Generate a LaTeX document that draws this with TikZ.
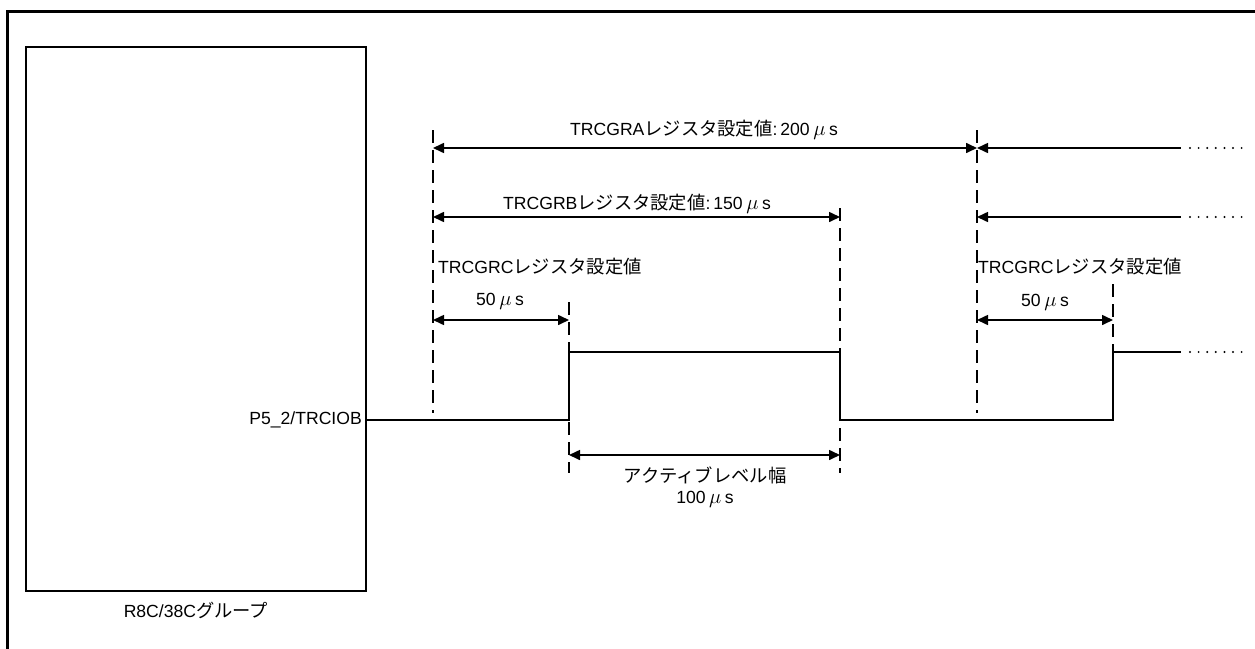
\documentclass[tikz,border=0pt]{standalone}
\usepackage{fontspec}
\setmainfont{Liberation Sans}
\newfontfamily\jpfont[Scale=1.04]{Noto Sans CJK JP}
\usetikzlibrary{arrows.meta,positioning}

\tikzset{
  txt/.style={font=\fontsize{17.6}{21}\selectfont, inner sep=0pt},
  guide/.style={line width=2.6pt, dash pattern=on 13pt off 7pt},
  dim/.style={line width=1.6pt, {Triangle[length=11pt,width=10pt]}-{Triangle[length=11pt,width=10pt]}},
  dimleft/.style={line width=1.6pt, {Triangle[length=11pt,width=10pt]}-},
  sig/.style={line width=1.6pt},
  tail/.style={line width=2.2pt, line cap=round, dash pattern=on 0pt off 8.6pt},
}
\newcommand\musec{\hspace{0.2em}{\fontsize{22}{21}\selectfont$\mu$}\hspace{0.2em}s}

\begin{document}
\begin{tikzpicture}[x=1pt,y=-1pt]
  \useasboundingbox (0,0) rectangle (1255,648);

  \newcommand\Xa{433}
  \newcommand\Xb{569}
  \newcommand\Xc{840}
  \newcommand\Xd{977}
  \newcommand\Xe{1113}
  \newcommand\Hi{352}
  \newcommand\Lo{420}

  \draw[line width=3.2pt] (7.5,660) |- (1265,11.5);

  \node[draw, line width=1.7pt, minimum width=340pt, minimum height=544pt] (mcu) at (196,319) {};
  \node[txt, below=10pt of mcu] (mcuname) {R8C/38C{\jpfont グループ}};
  \node[txt, anchor=east] (pin) at (362,\Lo) {P5\_2/TRCIOB};

  \coordinate (rowA) at (0,148);
  \coordinate (rowB) at (0,217);
  \coordinate (rowC) at (0,320);
  \coordinate (rowD) at (0,455);

  \foreach \n/\x/\a/\b in {a/\Xa/130/413, d/\Xd/130/413, c/\Xc/208/473, b/\Xb/302/473, e/\Xe/284/352} {
    \coordinate (top\n) at (\x,\a);
    \coordinate (bot\n) at (\x,\b);
    \draw[guide] (top\n) -- (bot\n);
  }

  \draw[sig] (mcu.east |- pin) -- (\Xb,\Lo) -- (\Xb,\Hi) -- (\Xc,\Hi) -- (\Xc,\Lo)
    -- (\Xe,\Lo) -- (\Xe,\Hi) -- (1181,\Hi) coordinate (sigend);
  \draw[tail] ([xshift=9pt]sigend) -- ([xshift=62pt]sigend);

  \draw[dim] (topa |- rowA) -- (topd |- rowA);
  \draw[dimleft] (topd |- rowA) -- (1181,148) coordinate (graend);
  \draw[tail] ([xshift=9pt]graend) -- ([xshift=62pt]graend);

  \draw[dim] (topa |- rowB) -- (topc |- rowB);
  \draw[dimleft] (topd |- rowB) -- (1181,217) coordinate (grbend);
  \draw[tail] ([xshift=9pt]grbend) -- ([xshift=62pt]grbend);

  \draw[dim] (topa |- rowC) -- (topb |- rowC);
  \draw[dim] (topd |- rowC) -- (tope |- rowC);
  \draw[dim] (topb |- rowD) -- (topc |- rowD);

  \node[txt] (graTxt) at (704,130) {TRCGRA{\jpfont レジスタ設定値}:\,200\musec};
  \node[txt] (grbTxt) at (637,204) {TRCGRB{\jpfont レジスタ設定値}:\,150\musec};
  \node[txt, anchor=west] (grcTxt) at (438,267) {TRCGRC{\jpfont レジスタ設定値}};
  \node[txt, anchor=west] (grcTxtB) at (978,267) {TRCGRC{\jpfont レジスタ設定値}};
  \node[txt] (gapTxt) at (500,301) {50\musec};
  \node[txt] (gapTxtB) at (1045,302) {50\musec};
  \node[txt, align=center] (actTxt) at (705,487) {{\jpfont アクティブレベル幅}\\100\musec};
\end{tikzpicture}
\end{document}
